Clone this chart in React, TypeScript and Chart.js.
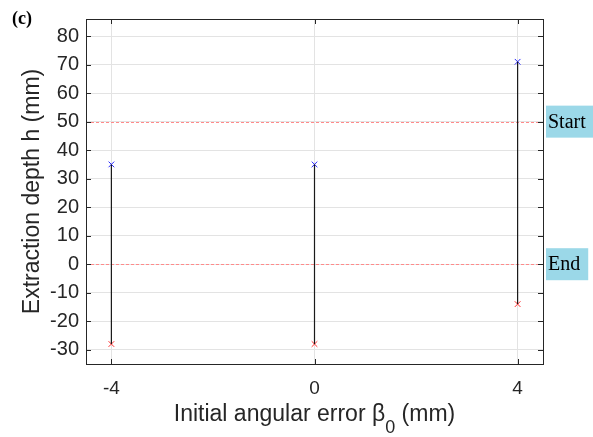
import React, { useEffect, useRef } from "react";
import { Chart, registerables } from "chart.js";

Chart.register(...registerables);

const xCategories = [-4, 0, 4];
const startDepth = [35, 35, 71];
const endDepth = [-28, -28, -14];
const yTicks = [-30, -20, -10, 0, 10, 20, 30, 40, 50, 60, 70, 80];
const refLines = [
  { value: 50, label: "Start" },
  { value: 0, label: "End" },
];
const xTitle = "Initial angular error β";
const xTitleSub = "0";
const xTitleEnd = " (mm)";
const yTitle = "Extraction depth h (mm)";
const panelLabel = "(c)";

const AXIS = "#262626";
const SANS = "'Liberation Sans', Arial, sans-serif";
const SERIF = "'Liberation Serif', 'Times New Roman', serif";

const decoPlugin = {
  id: "deco",
  beforeDatasetsDraw(chart: any) {
    const { ctx, chartArea: a } = chart;
    ctx.save();
    ctx.strokeStyle = "#ff8a8a";
    ctx.lineWidth = 1;
    ctx.setLineDash([3, 2]);
    refLines.forEach((r) => {
      const y = Math.round(chart.scales.y.getPixelForValue(r.value)) + 0.5;
      ctx.beginPath();
      ctx.moveTo(a.left, y);
      ctx.lineTo(a.right, y);
      ctx.stroke();
    });
    ctx.restore();
  },
  afterDraw(chart: any) {
    const { ctx, chartArea: a } = chart;
    const xs = chart.scales.x;
    const ys = chart.scales.y;
    ctx.save();
    ctx.strokeStyle = AXIS;
    ctx.lineWidth = 1;
    ctx.setLineDash([]);
    ctx.strokeRect(Math.round(a.left) + 0.5, Math.round(a.top) + 0.5, Math.round(a.right - a.left), Math.round(a.bottom - a.top));
    const tl = 5;
    ctx.beginPath();
    yTicks.forEach((v) => {
      const y = Math.round(ys.getPixelForValue(v)) + 0.5;
      ctx.moveTo(a.left, y);
      ctx.lineTo(a.left + tl, y);
      ctx.moveTo(a.right, y);
      ctx.lineTo(a.right - tl, y);
    });
    xCategories.forEach((v) => {
      const x = Math.round(xs.getPixelForValue(v)) + 0.5;
      ctx.moveTo(x, a.bottom);
      ctx.lineTo(x, a.bottom - tl);
      ctx.moveTo(x, a.top);
      ctx.lineTo(x, a.top + tl);
    });
    ctx.stroke();

    // Start / End boxes
    refLines.forEach((r) => {
      const y = ys.getPixelForValue(r.value);
      ctx.font = `20px ${SERIF}`;
      const w = ctx.measureText(r.label).width;
      const bx = a.right + 3;
      const bh = 32;
      ctx.fillStyle = "#9bd8e8";
      ctx.fillRect(bx, y - bh / 2, w + 10, bh);
      ctx.fillStyle = "#000";
      ctx.textBaseline = "middle";
      ctx.textAlign = "left";
      ctx.fillText(r.label, bx + 2, y + 1);
    });

    // x title with subscript
    ctx.fillStyle = AXIS;
    ctx.textBaseline = "alphabetic";
    ctx.textAlign = "left";
    const mainFont = `23px ${SANS}`;
    const subFont = `18px ${SANS}`;
    ctx.font = mainFont;
    const w1 = ctx.measureText(xTitle).width;
    const w3 = ctx.measureText(xTitleEnd).width;
    ctx.font = subFont;
    const w2 = ctx.measureText(xTitleSub).width;
    const total = w1 + w2 + w3;
    const cx = (a.left + a.right) / 2;
    const x0 = cx - total / 2;
    const base = 421;
    ctx.font = mainFont;
    ctx.fillText(xTitle, x0, base);
    ctx.font = subFont;
    ctx.fillText(xTitleSub, x0 + w1, base + 12);
    ctx.font = mainFont;
    ctx.fillText(xTitleEnd, x0 + w1 + w2, base);

    // y title
    ctx.save();
    ctx.translate(39, (a.top + a.bottom) / 2);
    ctx.rotate(-Math.PI / 2);
    ctx.textAlign = "center";
    ctx.textBaseline = "alphabetic";
    ctx.font = mainFont;
    ctx.fillText(yTitle, 0, 0);
    ctx.restore();

    // panel label
    ctx.fillStyle = "#000";
    ctx.font = `bold 18px ${SERIF}`;
    ctx.textAlign = "left";
    ctx.textBaseline = "alphabetic";
    ctx.fillText(panelLabel, 12, 24);
    ctx.restore();
  },
};

export default function App() {
  const ref = useRef<HTMLCanvasElement | null>(null);
  useEffect(() => {
    if (!ref.current) return;
    const verticals = xCategories.map((x, i) => ({
      type: "line" as const,
      data: [
        { x, y: endDepth[i] },
        { x, y: startDepth[i] },
      ],
      borderColor: "#1a1a1a",
      borderWidth: 1.2,
      pointRadius: 0,
      showLine: true,
      fill: false,
    }));
    const chart = new Chart(ref.current, {
      type: "scatter",
      data: {
        datasets: [
          ...verticals,
          {
            type: "scatter" as const,
            data: xCategories.map((x, i) => ({ x, y: startDepth[i] })),
            pointStyle: "crossRot",
            pointRadius: 4,
            borderColor: "#2a2aff",
            borderWidth: 1,
            backgroundColor: "#2a2aff",
          },
          {
            type: "scatter" as const,
            data: xCategories.map((x, i) => ({ x, y: endDepth[i] })),
            pointStyle: "crossRot",
            pointRadius: 4,
            borderColor: "#ff3030",
            borderWidth: 1,
            backgroundColor: "#ff3030",
          },
        ] as any,
      },
      options: {
        animation: false,
        responsive: false,
        maintainAspectRatio: false,
        layout: { padding: { left: 0, right: 50, top: 18, bottom: 0 } },
        plugins: { legend: { display: false }, tooltip: { enabled: false } },
        scales: {
          x: {
            type: "linear",
            min: -4.5,
            max: 4.5,
            afterBuildTicks: (s: any) => {
              s.ticks = xCategories.map((v) => ({ value: v }));
            },
            afterFit: (s: any) => {
              s.height = 73;
            },
            grid: { color: "#e3e3e3", drawTicks: false, lineWidth: 1 },
            border: { display: false },
            ticks: {
              color: AXIS,
              font: { family: SANS, size: 19 },
              padding: 13,
              maxRotation: 0,
              callback: (v: any) => String(v),
            },
          },
          y: {
            type: "linear",
            min: -35,
            max: 86,
            afterBuildTicks: (s: any) => {
              s.ticks = yTicks.map((v) => ({ value: v }));
            },
            afterFit: (s: any) => {
              s.width = 86;
            },
            grid: { color: "#e3e3e3", drawTicks: false, lineWidth: 1 },
            border: { display: false },
            ticks: {
              color: AXIS,
              font: { family: SANS, size: 20 },
              padding: 7,
              callback: (v: any) => String(v),
            },
          },
        },
      },
      plugins: [decoPlugin],
    } as any);
    return () => chart.destroy();
  }, []);
  return (
    <div style={{ position: "absolute", left: 0, top: 0, width: 593, height: 437, background: "#fff" }}>
      <canvas ref={ref} width={593} height={437} style={{ display: "block" }} />
    </div>
  );
}
